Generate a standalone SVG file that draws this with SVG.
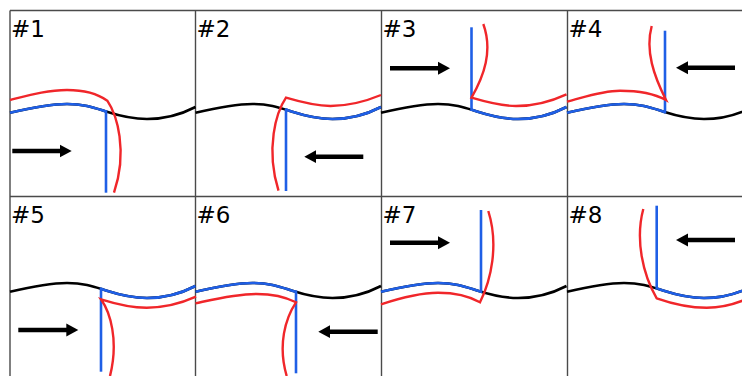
<svg xmlns="http://www.w3.org/2000/svg" width="742" height="376" viewBox="0 0 742 376">
<style>
.grid{stroke:#4a4a4a;stroke-width:1.4;fill:none}
.wave{fill:none;stroke:#000;stroke-width:2.6}
.blue{fill:none;stroke:#1f5fe6;stroke-width:2.6}
.red{fill:none;stroke:#f0262a;stroke-width:2.4;stroke-linejoin:miter}
.arrow{fill:none;stroke:#000;stroke-width:4.5;marker-end:url(#ah)}
.lbl{font-family:"DejaVu Sans",sans-serif;font-size:23px;fill:#000}
</style>
<defs>
<path id="w" d="M0,101.7 C20,97 38,93 57,93 C75,93 85,97 96,100.5 C110,105 122,108 137,108 C155,108 172,103 185.5,96"/>
<clipPath id="cL96"><rect x="-5" y="0" width="101" height="200"/></clipPath>
<clipPath id="cL98"><rect x="-5" y="0" width="103" height="200"/></clipPath>
<clipPath id="cL100"><rect x="-5" y="0" width="105.5" height="200"/></clipPath>
<clipPath id="cR90"><rect x="90.5" y="0" width="110" height="200"/></clipPath>
<marker id="ah" markerUnits="userSpaceOnUse" markerWidth="13" markerHeight="14" viewBox="0 -7 13 14" refX="1" refY="0" orient="auto"><path d="M0,-6.5 L12,0 L0,6.5 z" fill="#000"/></marker>
</defs>
<rect width="742" height="376" fill="#fff"/>
<g id="grid" class="grid">
<path d="M10,10.5 H742 M10,196.5 H742 M10,10.5 V376 M195.5,10.5 V376 M381.5,10.5 V376 M567.5,10.5 V376"/>
</g>
<g id="panel1" transform="translate(10,11)">
<use href="#w" class="wave"/>
<use href="#w" class="blue" clip-path="url(#cL96)"/>
<path class="blue" d="M96,99.2 V181.7"/>
<path class="red" d="M0,89 C20,84 38,79 57,79 C75,79 88,83 97.3,89.7 C107,104 118,140 104,181.7"/>
</g>
<g id="panel2" transform="translate(195.5,11)">
<use href="#w" class="wave"/>
<use href="#w" class="blue" clip-path="url(#cR90)"/>
<path class="blue" d="M90.5,97.4 V180"/>
<path class="red" d="M83,179.7 C69.8,137 80.8,101 90.5,86.7 C105,91 120,95 135,95 C153,95 171,90 185.5,84"/>
</g>
<g id="panel3" transform="translate(381,11)">
<use href="#w" class="wave"/>
<use href="#w" class="blue" clip-path="url(#cR90)"/>
<path class="blue" d="M90.5,16.3 V100"/>
<path class="red" d="M102.3,13 C112,40 103,65 90.5,86.7 C105,91 120,95 135,95 C153,95 171,90 185.5,83.3"/>
</g>
<g id="panel4" transform="translate(567,11)">
<use href="#w" class="wave"/>
<use href="#w" class="blue" clip-path="url(#cL98)"/>
<path class="blue" d="M98,19.7 V102.3"/>
<path class="red" d="M0,90.7 C18,86 35,79.7 53,79.7 C72,79.7 88,83 99,89 C87,65 78,40 84.7,15"/>
</g>
<g id="panel5" transform="translate(10,190)">
<use href="#w" class="wave"/>
<use href="#w" class="blue" clip-path="url(#cR90)"/>
<path class="blue" d="M91,97.6 V181.7"/>
<path class="red" d="M100,186 C109,150 100,122 91,109.3 C106,114 120,117.7 136.7,117.7 C155,117.7 172,113 186,106.7"/>
</g>
<g id="panel6" transform="translate(195.5,190)">
<use href="#w" class="wave"/>
<use href="#w" class="blue" clip-path="url(#cL100)"/>
<path class="blue" d="M100.5,100.5 V183.3"/>
<path class="red" d="M0,113.3 C20,109 40,104 61,104 C78,104 92,108 100.5,112.3 C90,128 82,155 91.2,186"/>
</g>
<g id="panel7" transform="translate(381,190)">
<use href="#w" class="wave"/>
<use href="#w" class="blue" clip-path="url(#cL100)"/>
<path class="blue" d="M100,20 V103"/>
<path class="red" d="M0,114.3 C19,108 38,102.7 57,102.7 C75,102.7 88,106 99,112.3 C110,90 118,55 107.3,21"/>
</g>
<g id="panel8" transform="translate(567,190)">
<use href="#w" class="wave"/>
<use href="#w" class="blue" clip-path="url(#cR90)"/>
<path class="blue" d="M89.7,15.7 V99.5"/>
<path class="red" d="M76.3,19 C68,50 76,85 89.7,108.3 C106,114 122,117.7 139.7,117.7 C157,117.7 172,113 186,106"/>
</g>
<g id="connectors">
<path class="arrow" d="M12.3,151 H60.7"/>
<path class="arrow" d="M363.3,156.7 H315.3"/>
<path class="arrow" d="M390,68.3 H439"/>
<path class="arrow" d="M735,67.7 H687"/>
<path class="arrow" d="M18.3,330 H67.3"/>
<path class="arrow" d="M377.7,331.7 H329.3"/>
<path class="arrow" d="M390,242.7 H439"/>
<path class="arrow" d="M735,240 H687"/>
</g>
<g id="labels" class="lbl">
<text x="11" y="36.5">#1</text>
<text x="196.5" y="36.5">#2</text>
<text x="382.5" y="36.5">#3</text>
<text x="568.5" y="36.5">#4</text>
<text x="11" y="222.5">#5</text>
<text x="196.5" y="222.5">#6</text>
<text x="382.5" y="222.5">#7</text>
<text x="568.5" y="222.5">#8</text>
</g>
</svg>
